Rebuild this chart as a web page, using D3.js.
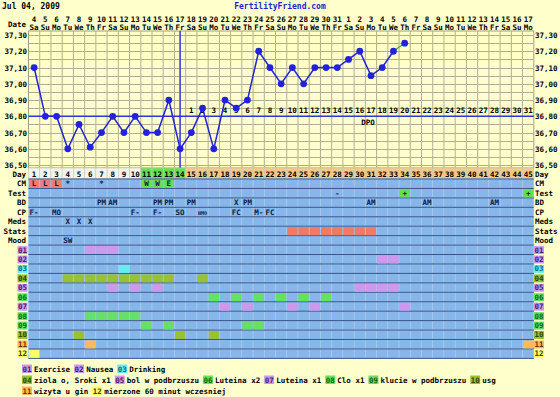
<!DOCTYPE html>
<html>
<head>
<meta charset="utf-8">
<script src="https://cdn.jsdelivr.net/npm/d3@7"></script>
<style>
  body { margin: 0; background: #ffffcc; }
  svg text { font-family: "DejaVu Sans Mono", monospace; font-weight: bold; }
</style>
</head>
<body>
<div id="chart"></div>
<script>
// chart values
const chartDate = 'Jul 04, 2009'
const siteName = 'FertilityFriend.com'
const days = [1,2,3,4,5,6,7,8,9,10,11,12,13,14,15,16,17,18,19,20,21,22,23,24,25,26,27,28,29,30,31,32,33,34,35,36,37,38,39,40,41,42,43,44,45]
const dateNums = [4,5,6,7,8,9,10,11,12,13,14,15,16,17,18,19,20,21,22,23,24,25,26,27,28,29,30,31,1,2,3,4,5,6,7,8,9,10,11,12,13,14,15,16,17]
const weekdays = ['Sa','Su','Mo','Tu','We','Th','Fr','Sa','Su','Mo','Tu','We','Th','Fr','Sa','Su','Mo','Tu','We','Th','Fr','Sa','Su','Mo','Tu','We','Th','Fr','Sa','Su','Mo','Tu','We','Th','Fr','Sa','Su','Mo','Tu','We','Th','Fr','Sa','Su','Mo']
const temps = [37.10,36.80,36.80,36.60,36.75,36.61,36.70,36.80,36.70,36.80,36.70,36.70,36.90,36.60,36.70,36.85,36.60,36.90,36.85,36.90,37.20,37.10,37.00,37.10,37.00,37.10,37.10,37.10,37.15,37.20,37.05,37.10,37.20,37.25]
const tempTicks = [36.5,36.6,36.7,36.8,36.9,37.0,37.1,37.2,37.3]
const coverline = 36.8
const ovulationDay = 14
const fertileDays = [11,12,13,14]
const dpoLabels = [1,2,3,4,5,6,7,8,9,10,11,12,13,14,15,16,17,18,19,20,21,22,23,24,25,26,27,28,29,30,31]

const rowNames = ['CM','Test','BD','CP','Meds','Stats','Mood','01','02','03','04','05','06','07','08','09','10','11','12']
const cmEntries = [[1,'L','red'],[2,'L','red'],[3,'L','red'],[4,'*',''],[7,'*',''],[11,'W','green'],[12,'W','green'],[13,'E','green']]
const testEntries = [[28,'-',''],[34,'+','green'],[45,'+','green']]
const bdEntries = [[7,'PM'],[8,'AM'],[12,'PM'],[13,'PM'],[15,'PM'],[19,'X'],[20,'PM'],[31,'AM'],[36,'AM'],[42,'AM']]
const cpEntries = [[1,'F-'],[3,'MO'],[10,'F-'],[12,'F-'],[14,'SO'],[16,'HMO'],[19,'FC'],[21,'M-'],[22,'FC']]
const medsEntries = [[4,'X'],[5,'X'],[6,'X']]
const statsDays = [24,25,26,27,28,29,30,31]
const moodEntries = [[4,'SW']]

const symptomCodes = ['01','02','03','04','05','06','07','08','09','10','11','12']
const symptomNames = ['Exercise','Nausea','Drinking','ziola o, Sroki x1','bol w podbrzuszu','Luteina x2','Luteina x1','Clo x1','klucie w podbrzuszu','usg','wizyta u gin','mierzone 60 minut wczesniej']
const symptomColors = ['#cc99ee','#cc99ee','#66eeee','#99c233','#cc99ee','#66e066','#cc99ee','#66e066','#66e066','#99c233','#ffbb55','#ffff66']
const symptomText = ['#442266','#442266','#116688','#334400','#442266','#116611','#442266','#116611','#116611','#334400','#663300','#444400']
const symptomDays = [
  [6,7,8],
  [32,33],
  [9],
  [4,5,6,7,8,9,10,11,12,13,16],
  [8,10,12,30,31,32,33],
  [17,19,21,23,25,27],
  [18,20,24,26,34],
  [6,7,8,9,10],
  [11,13,20,21],
  [5,14,17],
  [6,45],
  [1]
]
const legendLines = [[0,1,2],[3,4,5,6,7,8,9],[10,11]]

// layout
const width = 560
const height = 397
const left = 28.5
const right = 533.8
const plotTop = 31
const plotBottom = 168
const dayRowH = 11
const rowH = 9.44
const fs = 7.5

const svg = d3.select('#chart').append('svg')
  .attr('width', width)
  .attr('height', height)

svg.append('rect').attr('width', width).attr('height', height).attr('fill', '#ffffcc')

const x = d3.scaleBand().domain(days).range([left, right])
const cx = d => x(d) + x.bandwidth() / 2
const y = d3.scaleLinear().domain([36.5, 37.3]).range([165.1, 35])

// title
svg.append('text').attr('x', 2).attr('y', 9).attr('font-size', 8).text(chartDate)
svg.append('text').attr('x', 280).attr('y', 9).attr('font-size', 8).attr('text-anchor', 'middle')
  .attr('fill', '#2222cc').text(siteName)

// header dates
svg.append('text').attr('x', 26).attr('y', 27).attr('font-size', fs).attr('text-anchor', 'end').text('Date')
svg.selectAll('.dnum').data(days).enter().append('text')
  .attr('x', d => cx(d)).attr('y', 22).attr('font-size', fs).attr('text-anchor', 'middle')
  .text((d, i) => dateNums[i])
svg.selectAll('.wday').data(days).enter().append('text')
  .attr('x', d => cx(d)).attr('y', 30).attr('font-size', fs).attr('text-anchor', 'middle')
  .text((d, i) => weekdays[i])

// temperature grid
const grid = svg.append('g')
grid.append('rect').attr('x', left).attr('y', plotTop).attr('width', right - left).attr('height', plotBottom - plotTop)
  .attr('fill', '#ffffcc').attr('stroke', '#a0a080')
grid.selectAll('.vl').data(days.slice(1)).enter().append('line')
  .attr('x1', d => x(d)).attr('x2', d => x(d)).attr('y1', plotTop).attr('y2', plotBottom)
  .attr('stroke', '#b0b090').attr('stroke-width', 1)
const halfTicks = d3.range(36.5, 37.31, 0.05)
grid.selectAll('.hl').data(halfTicks).enter().append('line')
  .attr('x1', left).attr('x2', right).attr('y1', d => Math.round(y(d)) + 0.5).attr('y2', d => Math.round(y(d)) + 0.5)
  .attr('stroke', '#b0b090').attr('stroke-width', 1)

svg.selectAll('.tl').data(tempTicks).enter().append('text')
  .attr('x', 27).attr('y', d => y(d) + 3).attr('font-size', fs).attr('text-anchor', 'end')
  .text(d => d.toFixed(2).replace('.', ','))
svg.selectAll('.tr').data(tempTicks).enter().append('text')
  .attr('x', 535).attr('y', d => y(d) + 3).attr('font-size', fs)
  .text(d => d.toFixed(2).replace('.', ','))

// coverline and ovulation line
svg.append('line').attr('x1', left).attr('x2', right).attr('y1', y(coverline)).attr('y2', y(coverline))
  .attr('stroke', '#3333dd').attr('stroke-width', 1.5)
svg.append('line').attr('x1', cx(ovulationDay)).attr('x2', cx(ovulationDay)).attr('y1', plotTop).attr('y2', plotBottom)
  .attr('stroke', '#3333dd').attr('stroke-width', 1.5)

// dpo labels
svg.selectAll('.dpo').data(dpoLabels).enter().append('text')
  .attr('x', (d, i) => cx(ovulationDay + 1 + i)).attr('y', y(coverline) - 3).attr('font-size', fs)
  .attr('text-anchor', 'middle').text(d => d)
svg.append('text').attr('x', cx(31) - 3).attr('y', y(coverline) + 9).attr('font-size', fs)
  .attr('text-anchor', 'middle').text('DPO')

// temperature line
const pts = temps.map((t, i) => [cx(days[i]), y(t)])
const line = d3.line()
svg.append('path').datum(pts.slice(0, 33)).attr('d', line)
  .attr('fill', 'none').attr('stroke', '#2222dd').attr('stroke-width', 1.5)
svg.append('path').datum(pts.slice(32)).attr('d', line)
  .attr('fill', 'none').attr('stroke', '#33aa44').attr('stroke-width', 1.2)
svg.selectAll('.pt').data(pts).enter().append('circle')
  .attr('cx', d => d[0]).attr('cy', d => d[1]).attr('r', 3.4).attr('fill', '#2222dd')

// day row
const phaseColor = d => fertileDays.includes(d) ? '#66dd55' : (d > ovulationDay ? '#f6c88a' : '#f4f4ec')
svg.selectAll('.dr').data(days).enter().append('rect')
  .attr('x', d => x(d)).attr('y', plotBottom).attr('width', x.bandwidth()).attr('height', dayRowH)
  .attr('fill', phaseColor).attr('stroke', '#c8c8b0').attr('stroke-width', 0.6)
svg.selectAll('.dt').data(days).enter().append('text')
  .attr('x', d => cx(d)).attr('y', plotBottom + 8.5).attr('font-size', fs).attr('text-anchor', 'middle').text(d => d)
svg.append('text').attr('x', 26).attr('y', plotBottom + 8.5).attr('font-size', fs).attr('text-anchor', 'end').text('Day')
svg.append('text').attr('x', 535).attr('y', plotBottom + 8.5).attr('font-size', fs).text('Day')

// data rows
const rowsTop = plotBottom + dayRowH
const rowY = i => rowsTop + i * rowH
const rows = svg.append('g')
rowNames.forEach((name, i) => {
  rows.selectAll('.c' + i).data(days).enter().append('rect')
    .attr('x', d => x(d)).attr('y', rowY(i)).attr('width', x.bandwidth()).attr('height', rowH)
    .attr('fill', '#86b6ea').attr('stroke', '#a9c9ef').attr('stroke-width', 0.6)
})
rows.selectAll('.sep').data(d3.range(rowNames.length + 1)).enter().append('line')
  .attr('x1', left).attr('x2', right).attr('y1', d => rowY(d)).attr('y2', d => rowY(d))
  .attr('stroke', '#3a5688').attr('stroke-width', 1)

const hiColor = { red: '#f07a78', green: '#66dd55' }
function cellFill(rowIdx, dayList, color) {
  rows.selectAll(null).data(dayList).enter().append('rect')
    .attr('x', d => x(d) + 0.5).attr('y', rowY(rowIdx) + 1).attr('width', x.bandwidth() - 1).attr('height', rowH - 1.5)
    .attr('fill', color)
}
function cellText(rowIdx, entries, size) {
  rows.selectAll(null).data(entries).enter().append('text')
    .attr('x', d => cx(d[0])).attr('y', rowY(rowIdx) + rowH / 2 + 2.7)
    .attr('font-size', d => d[1].length > 2 ? 5 : (size || fs)).attr('text-anchor', 'middle')
    .attr('fill', '#0c1a44').text(d => d[1])
}
rows.selectAll(null).data(cmEntries.filter(e => e[2])).enter().append('rect')
  .attr('x', d => x(d[0]) + 0.5).attr('y', rowY(0) + 1).attr('width', x.bandwidth() - 1).attr('height', rowH - 1.5)
  .attr('fill', d => hiColor[d[2]])
rows.selectAll(null).data(testEntries.filter(e => e[2])).enter().append('rect')
  .attr('x', d => x(d[0]) + 0.5).attr('y', rowY(1) + 1).attr('width', x.bandwidth() - 1).attr('height', rowH - 1.5)
  .attr('fill', d => hiColor[d[2]])
cellFill(5, statsDays, '#f07a68')
symptomDays.forEach((list, k) => cellFill(7 + k, list, symptomColors[k]))

cellText(0, cmEntries)
cellText(1, testEntries)
cellText(2, bdEntries)
cellText(3, cpEntries)
cellText(4, medsEntries)
cellText(6, moodEntries)

// row labels
rowNames.forEach((name, i) => {
  const yy = rowY(i) + rowH / 2 + 2.7
  if (i < 7) {
    svg.append('text').attr('x', 26).attr('y', yy).attr('font-size', fs).attr('text-anchor', 'end').text(name)
    svg.append('text').attr('x', 535).attr('y', yy).attr('font-size', fs).text(name)
  } else {
    const k = i - 7
    ;[17.5, 534].forEach(x0 => {
      svg.append('rect').attr('x', x0).attr('y', rowY(i) + 1).attr('width', 10).attr('height', rowH - 1.5)
        .attr('fill', symptomColors[k])
      svg.append('text').attr('x', x0 + 5).attr('y', yy).attr('font-size', fs).attr('text-anchor', 'middle')
        .attr('fill', symptomText[k]).text(name)
    })
  }
})

// legend
const legendY = [368.5, 379.5, 390.5]
legendLines.forEach((items, li) => {
  let xx = 22
  const yy = legendY[li]
  items.forEach(k => {
    svg.append('rect').attr('x', xx).attr('y', yy - 4).attr('width', 10).attr('height', 8.5).attr('fill', symptomColors[k])
    svg.append('text').attr('x', xx + 5).attr('y', yy + 3).attr('font-size', fs).attr('text-anchor', 'middle')
      .attr('fill', symptomText[k]).text(symptomCodes[k])
    const t = svg.append('text').attr('x', xx + 12).attr('y', yy + 3).attr('font-size', fs).text(symptomNames[k])
    xx += 12 + t.node().getComputedTextLength() + 4
  })
})
</script>
</body>
</html>
